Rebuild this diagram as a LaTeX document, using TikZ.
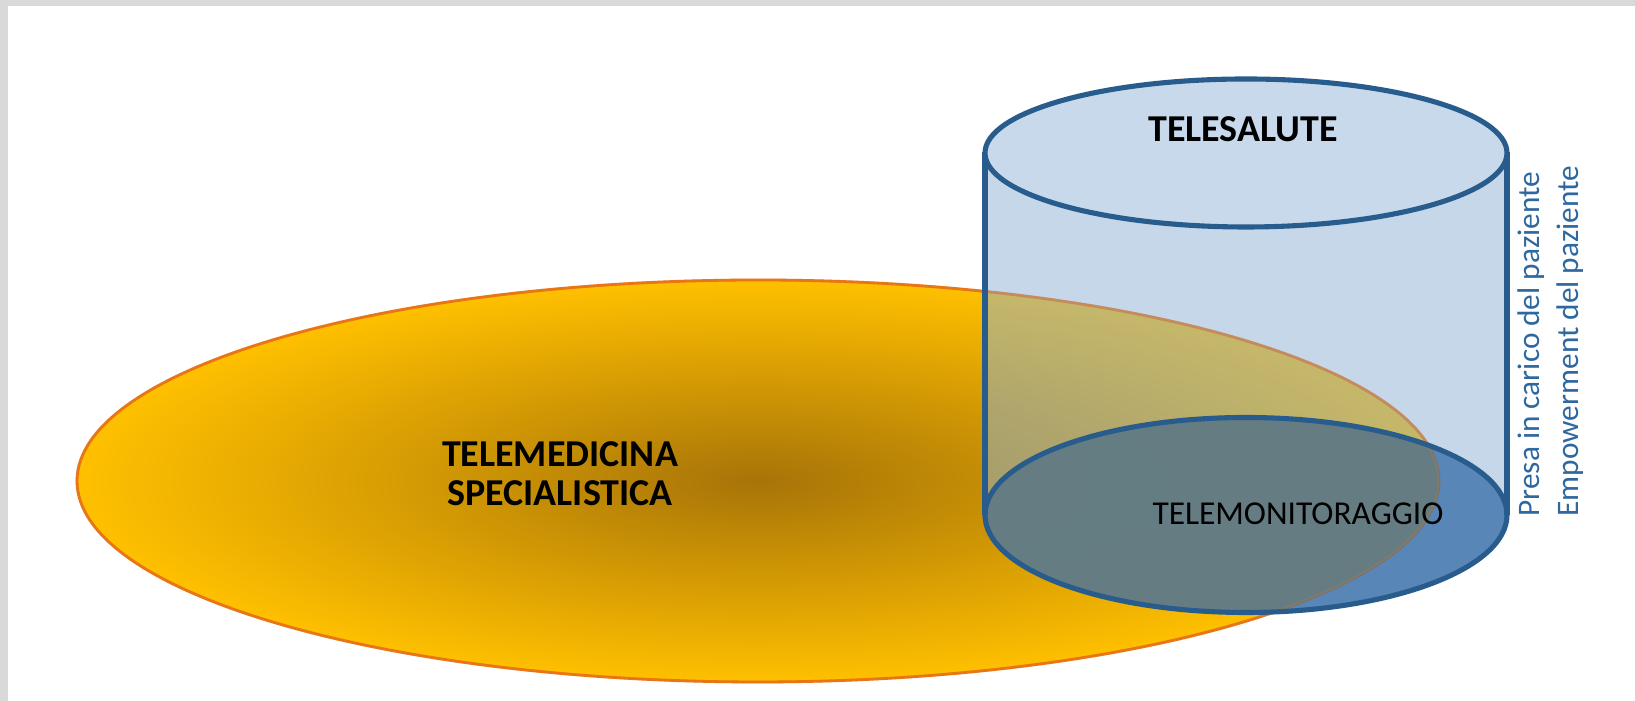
\documentclass[tikz,border=0pt]{standalone}
\usepackage{fontspec}
\setmainfont{Carlito}
\usepackage{tikz}
\usetikzlibrary{positioning,calc}

\definecolor{frameGray}{RGB}{217,217,217}
\definecolor{oLight}{RGB}{255,192,0}
\definecolor{oDark}{RGB}{168,116,8}
\definecolor{oLine}{RGB}{232,118,20}
\definecolor{cylLine}{RGB}{40,92,140}
\definecolor{topBlue}{RGB}{199,217,234}
\definecolor{bodyBlue}{RGB}{141,177,212}
\definecolor{botBlue}{RGB}{43,101,163}
\definecolor{mixGray}{RGB}{104,126,128}
\definecolor{txtBlue}{RGB}{46,104,160}

\tikzset{
  cyledge/.style={draw=cylLine, line width=1.45pt},
  bigtext/.style={font=\fontsize{10.8}{11.1}\selectfont\bfseries, align=center, inner sep=0pt},
  sidetext/.style={font=\fontsize{8.9}{10}\selectfont, text=txtBlue, rotate=90, anchor=base west, inner sep=0pt}
}

\begin{document}
\begin{tikzpicture}[x=0.01cm, y=-0.01cm]
\useasboundingbox (0,0) rectangle (1635,701);
\fill[frameGray] (0,0) rectangle (1635,701);
\fill[white] (8,6) rectangle (1635,701);
% ellisse arancione
\shade[inner color=oDark, outer color=oLight] (758,481) ellipse [x radius=681, y radius=201];
\draw[oLine, line width=0.8pt] (758,481) ellipse [x radius=681, y radius=201];
% cilindro
\fill[bodyBlue, opacity=.5] (985,152) -- (985,515) arc[start angle=180, end angle=0, x radius=261, y radius=97.5] -- (1507,152) -- cycle;
\fill[botBlue, opacity=.7] (1246,515) ellipse [x radius=261, y radius=97.5];
\begin{scope}
  \clip (758,481) ellipse [x radius=681, y radius=201];
  \fill[mixGray, opacity=.85] (1246,515) ellipse [x radius=261, y radius=97.5];
\end{scope}
\draw[oLine, opacity=.25, line width=0.8pt] (758,481) ellipse [x radius=681, y radius=201];
\draw[cyledge] (1246,515) ellipse [x radius=261, y radius=97.5];
\foreach \x in {985,1507} \draw[cyledge] (\x,152) -- (\x,515);
\filldraw[cyledge, fill=topBlue] (1246,153) ellipse [x radius=261, y radius=74];
% testi
\node[bigtext] (salute) at (1243,129) {TELESALUTE};
\node[bigtext] (medicina) at (560,474) {TELEMEDICINA\\SPECIALISTICA};
\node[font=\fontsize{9.5}{11}\selectfont, inner sep=0pt] (monitor) at (1298,514) {TELEMONITORAGGIO};
\node[sidetext] (presa) at (1539,517) {Presa in carico del paziente};
\node[sidetext] (empow) at (1578,517) {Empowerment del paziente};
\end{tikzpicture}
\end{document}
